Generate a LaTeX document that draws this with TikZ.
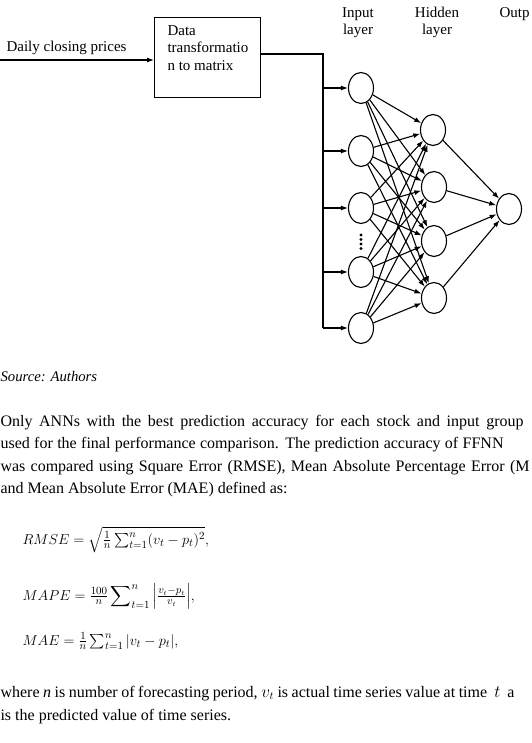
\documentclass[tikz,border=0pt]{standalone}
\usepackage{amsmath}
\usepackage{fontspec}
\setmainfont{Liberation Serif}
\usetikzlibrary{arrows.meta, shapes.geometric}

\tikzset{
  neuron/.style={draw, ellipse, minimum width=25pt, minimum height=31pt, inner sep=0pt},
  pfeil/.style={-{Latex[length=7pt,width=5pt]}},
  klein/.style={font=\fontsize{15}{17.5}\selectfont, inner sep=0pt},
  zeile/.style={anchor=base west, inner sep=0pt, font=\fontsize{16}{22}\selectfont},
  formel/.style={anchor=base west, inner sep=0pt, font=\fontsize{15}{18}\selectfont},
}

\begin{document}
\begin{tikzpicture}[x=1pt, y=-1pt, line width=1.1pt]

    % 0. Rahmen (Bildausschnitt wie im Original, rechts abgeschnitten)
    \useasboundingbox (0,0) rectangle (531,743);
    \clip (0,0) rectangle (531,743);

    % 1. Eingang und Transformationsbox
    \node[draw, minimum width=106pt, minimum height=80pt, anchor=north west] (T) at (154,17) {};
    \node[klein, anchor=north west, align=left] (Ttext) at (167,25) {Data\\transformatio\\n to matrix};
    \coordinate (ein) at (0,60);
    \draw[pfeil] (ein) -- (ein -| T.west);
    \node[klein, anchor=base west] (daily) at (6,52) {Daily closing prices};

    % 2. Neuronen (Eingabe-, verdeckte und Ausgabeschicht)
    \node[neuron] (I1) at (361,88) {};
    \node[neuron] (I2) at (361,151) {};
    \node[neuron] (I3) at (361,208) {};
    \node[neuron] (I4) at (361,272) {};
    \node[neuron] (I5) at (361,328) {};

    \node[neuron] (H1) at (433,130) {};
    \node[neuron] (H2) at (434,187) {};
    \node[neuron] (H3) at (434,241) {};
    \node[neuron] (H4) at (434,298) {};

    \node[neuron] (O) at (509,209) {};

    % Punkte zwischen den Eingabeneuronen
    \foreach \y in {235,239.5,244,248.5}
        \fill (361,\y) circle (1.7pt);

    % 3. Verteilerleitung zu den Eingabeneuronen
    \coordinate (knick) at (323,54);
    \draw (T.east |- knick) -- (knick) -- (knick |- I5);
    \foreach \i in {1,...,5}
        \draw[pfeil] (knick |- I\i) -- (I\i);

    % 4. Vollstaendige Verbindungen
    \foreach \i in {1,...,5}
        \foreach \h in {1,...,4}
            \draw[pfeil] (I\i) -- (H\h);
    \foreach \h in {1,...,4}
        \draw[pfeil] (H\h) -- (O);

    % 5. Beschriftung der Schichten
    \node[klein, align=center] (inlab) at (358,22.5) {Input\\layer};
    \node[klein, align=center] (hidlab) at (437,22.5) {Hidden\\layer};
    \node[klein, anchor=base west] (outlab) at (499,18) {Outp};

    % 6. Text unter der Abbildung
    \node[zeile, font=\fontsize{14.7}{17}\selectfont\itshape] (quelle) at (0,381) {Source: Authors};
    \node[zeile] (z1) at (0,426) {\makebox[523pt][s]{Only ANNs with the best prediction accuracy for each stock and input group}};
    \node[zeile] (z2) at (0,448.5) {\makebox[503pt][s]{used for the final performance comparison. The prediction accuracy of FFNN}};
    \node[zeile] (z3) at (0,471) {\makebox[529pt][s]{was compared using Square Error (RMSE), Mean Absolute Percentage Error (M}};
    \node[zeile] (z4) at (0,493.5) {and Mean Absolute Error (MAE) defined as:};

    % 7. Formeln
    \node[formel] (rmse) at (22,544) {$RMSE=\sqrt{\tfrac{1}{n}\sum_{t=1}^{n}(v_t-p_t)^2},$};
    \node[formel] (mape) at (22,600) {$MAPE=\tfrac{100}{n}\displaystyle\sum\nolimits_{t=1}^{n}\,\Bigl|\tfrac{v_t-p_t}{v_t}\Bigr|,$};
    \node[formel] (mae) at (22,645) {$MAE=\tfrac{1}{n}\sum_{t=1}^{n}|v_t-p_t|,$};

    % 8. Erlaeuterung
    \node[zeile] (z5) at (0,697) {\makebox[514pt][s]{where \textit{n} is number of forecasting period, $v_t$ is actual time series value at time \ $t$ \ a}};
    \node[zeile] (z6) at (0,720) {is the predicted value of time series.};

\end{tikzpicture}
\end{document}
